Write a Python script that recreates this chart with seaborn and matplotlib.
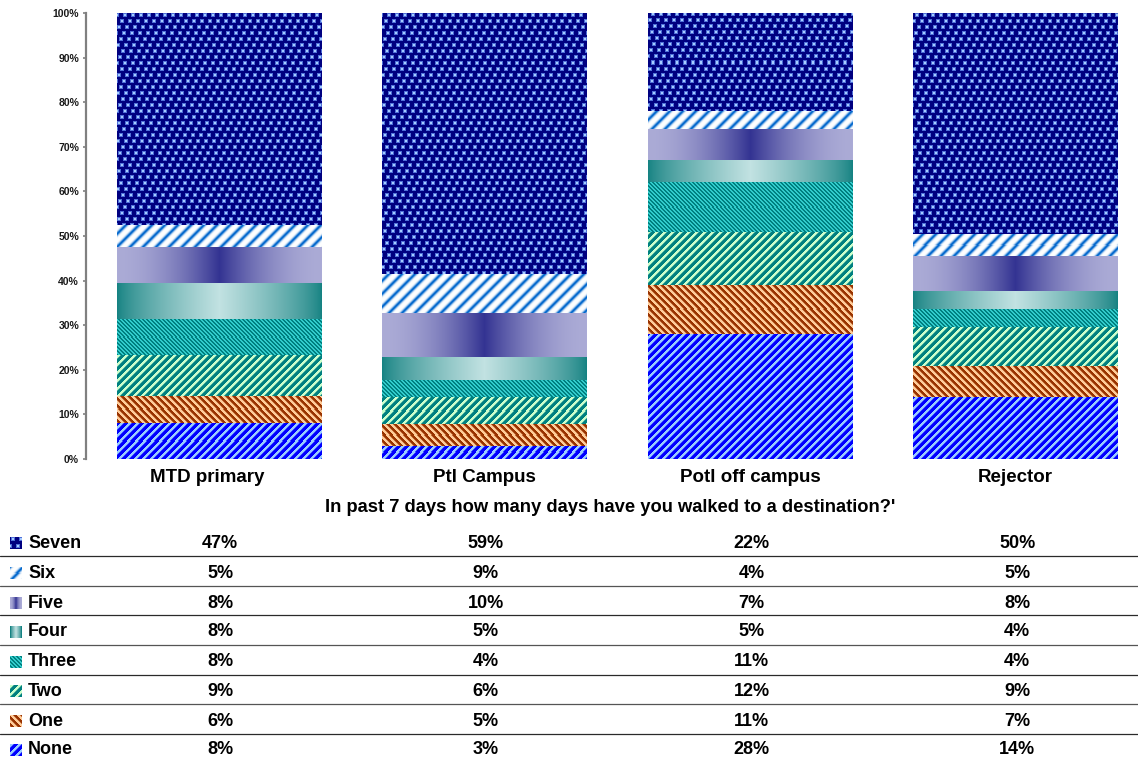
import numpy as np
import pandas as pd
import matplotlib
matplotlib.use("Agg")
import matplotlib.pyplot as plt
import matplotlib.transforms as mtransforms
import seaborn as sns
from matplotlib.colors import to_rgb
from matplotlib.lines import Line2D

# ---- data -------------------------------------------------------------
groups = ["MTD primary", "Ptl Campus", "Potl off campus", "Rejector"]
levels = ["None", "One", "Two", "Three", "Four", "Five", "Six", "Seven"]
none_pct = [8, 3, 28, 14]
one_pct = [6, 5, 11, 7]
two_pct = [9, 6, 12, 9]
three_pct = [8, 4, 11, 4]
four_pct = [8, 5, 5, 4]
five_pct = [8, 10, 7, 8]
six_pct = [5, 9, 4, 5]
seven_pct = [47, 59, 22, 50]
y_tick_values = [0, 10, 20, 30, 40, 50, 60, 70, 80, 90, 100]
title_text = "In past 7 days how many days have you walked to a destination?'"

series = {
    "None": none_pct, "One": one_pct, "Two": two_pct, "Three": three_pct,
    "Four": four_pct, "Five": five_pct, "Six": six_pct, "Seven": seven_pct,
}

# ---- styling ----------------------------------------------------------
sns.set_theme(style="white")
plt.rcParams["font.family"] = ["Liberation Sans", "DejaVu Sans"]
plt.rcParams["font.weight"] = "bold"

W, H = 1138, 761
base_colors = {
    "None": "#0000FF", "One": "#993300", "Two": "#008080", "Three": "#009999",
    "Four": "#7FB0B0", "Five": "#6666AA", "Six": "#FFFFFF", "Seven": "#000080",
}


def blend(c0, c1, m):
    a = np.array(to_rgb(c0))
    b = np.array(to_rgb(c1))
    return a + (b - a) * m[..., None]


def texture(level, I, J, U):
    """Fill pattern for one series; I/J are screen pixel rows/cols, U is 0..1 across the bar."""
    if level == "None":
        p = (I + J) % 8
        m = np.where(p < 3, 1.0, np.where(p == 3, 0.4, 0.0))
        return blend("#0000FF", "#99CCFF", m)
    if level == "One":
        p = (J - I) % 7
        m = np.where(p < 3, 1.0, np.where(p == 3, 0.4, 0.0))
        return blend("#993300", "#FFCC99", m)
    if level == "Two":
        p = (I + J) % 8
        m = np.where(p < 3, 1.0, np.where(p == 3, 0.4, 0.0))
        return blend("#008080", "#CCFFCC", m)
    if level == "Three":
        p = (J - I) % 4
        m = np.where(p < 2, 1.0, 0.0)
        return blend("#008080", "#33CCCC", m)
    if level == "Four":
        f = (1 - np.abs(2 * U - 1)) ** 0.75
        return blend("#158282", "#C2E2E2", f)
    if level == "Five":
        f = (1 - np.abs(2 * U - 1)) ** 1.8
        return blend("#ABABD6", "#333392", f)
    if level == "Six":
        p = (I + J) % 13
        d = np.minimum(p, 13 - p)
        m = np.exp(-(d / 2.4) ** 2)
        return blend("#FFFFFF", "#0066CC", m)
    # Seven: navy ground with small soft light-blue squares
    r = I // 6
    i0 = I % 6
    jj = (J + (r * 3) % 8) % 8
    inside = (i0 >= 1) & (i0 <= 4) & (jj >= 1) & (jj <= 4)
    core = (i0 >= 2) & (i0 <= 3) & (jj >= 2) & (jj <= 3)
    img = blend("#000080", "#000080", np.zeros(I.shape))
    img[inside] = to_rgb("#4F6FD8")
    img[core] = to_rgb("#A6CCFF")
    return img


# ---- figure -----------------------------------------------------------
fig = plt.figure(figsize=(W / 100, H / 100), dpi=100)
ax = fig.add_axes([86 / W, 1 - 459 / H, (W - 86) / W, 446 / H])

bottom = np.zeros(len(groups))
totals = np.sum([series[l] for l in levels], axis=0).astype(float)
for lvl in levels:
    share = np.array(series[lvl], dtype=float) / totals * 100
    df = pd.DataFrame({"group": groups, "pct": share})
    sns.barplot(data=df, x="group", y="pct", order=groups, bottom=bottom.copy(),
                color=base_colors[lvl], saturation=1, width=0.77, errorbar=None,
                linewidth=0, ax=ax)
    bottom += share

cat_step = 265.6
ax.set_xlim(-0.5, -0.5 + (W - 86) / cat_step)
ax.set_ylim(0, 100)

# overlay pattern fills on every bar segment
fig.canvas.draw()
patches = list(ax.patches)
for idx, patch in enumerate(patches):
    lvl = levels[idx // len(groups)]
    x, y = patch.get_x(), patch.get_y()
    w, h = patch.get_width(), patch.get_height()
    (px0, py0) = ax.transData.transform((x, y))
    (px1, py1) = ax.transData.transform((x + w, y + h))
    wp = max(int(round(px1 - px0)), 1)
    hp = max(int(round(py1 - py0)), 1)
    j0 = int(round(px0))
    i0 = int(round(H - py1))
    I, J = np.mgrid[i0:i0 + hp, j0:j0 + wp]
    U = (J - j0) / max(wp - 1, 1)
    img = texture(lvl, I, J, U)
    ax.imshow(img, extent=(x, x + w, y, y + h), origin="upper",
              interpolation="nearest", aspect="auto", zorder=patch.get_zorder() + 0.1,
              clip_path=patch)

ax.set_xlim(-0.5, -0.5 + (W - 86) / cat_step)
ax.set_ylim(0, 100)

# axes decoration
for side in ["top", "right", "bottom"]:
    ax.spines[side].set_visible(False)
ax.spines["left"].set_color("#808080")
ax.spines["left"].set_linewidth(1.6)
ax.set_yticks(y_tick_values)
ax.set_yticklabels([f"{v}%" for v in y_tick_values], fontsize=7.5, fontweight="bold",
                   color="#1a1a1a")
ax.tick_params(axis="y", left=True, length=2.5, width=1.2, color="#808080", pad=2.5)
ax.tick_params(axis="x", length=0, pad=7, labelsize=13.5)
xlabels = ax.get_xticklabels()
for t in xlabels:
    t.set_fontweight("bold")
    t.set_color("black")
# the first category label sits a little left of its bar centre
xlabels[0].set_transform(xlabels[0].get_transform() +
                         mtransforms.ScaledTranslation(-12 / 100, 0, fig.dpi_scale_trans))
ax.set_xlabel("")
ax.set_ylabel("")
ax.grid(False)

fig.text(610 / W, 1 - 507 / H, title_text, ha="center", va="center",
         fontsize=13.2, fontweight="bold", color="black")

# ---- data table ---------------------------------------------------------
row_y = [543, 573, 603, 632, 662, 691, 721, 750]
line_y = [556, 585.5, 615, 645, 674.5, 704, 733.5]
col_x = [ax.transData.transform((k, 0))[0] / W for k in range(len(groups))]

for n, ly in enumerate(line_y):
    fig.add_artist(Line2D([0, 1], [1 - ly / H, 1 - ly / H], transform=fig.transFigure,
                          color="#2a2a2a" if n % 2 == 0 else "#555555", linewidth=0.9))

for r, lvl in enumerate(levels[::-1]):
    yc = row_y[r]
    fy = 1 - yc / H
    icon_ax = fig.add_axes([10 / W, 1 - (yc + 6) / H, 12 / W, 12 / H])
    I, J = np.mgrid[0:12, 0:12]
    icon_ax.imshow(texture(lvl, I, J, J / 11.0), interpolation="nearest", aspect="auto")
    icon_ax.axis("off")
    fig.text(28 / W, fy, lvl, ha="left", va="center", fontsize=13,
             fontweight="bold", color="black")
    for k in range(len(groups)):
        fig.text(col_x[k] + 1.5 / W, fy, f"{series[lvl][k]}%", ha="center", va="center",
                 fontsize=13, fontweight="bold", color="black")

fig.savefig("out.png", dpi=100)
